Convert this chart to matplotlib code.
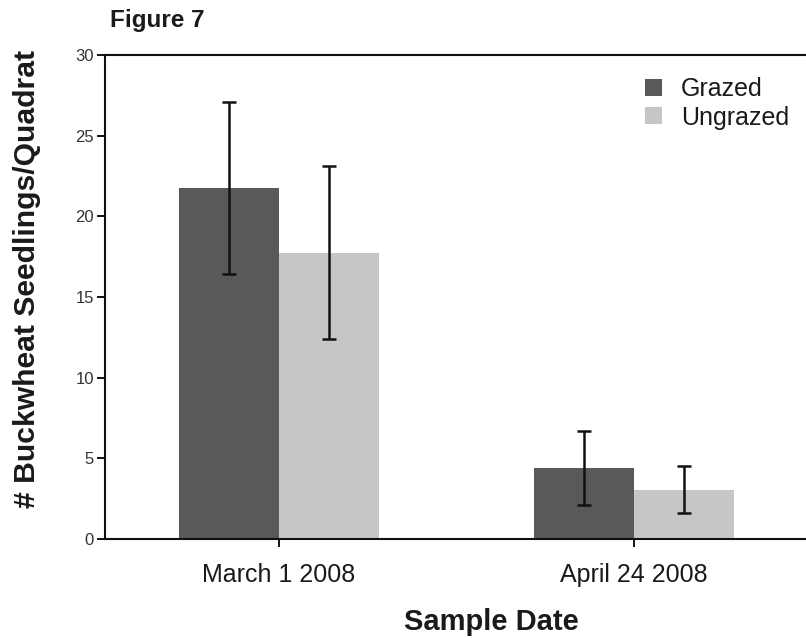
import matplotlib
matplotlib.use("Agg")
import matplotlib.pyplot as plt
import numpy as np

# Seedling counts per quadrat (mean ± error) by sample date and treatment
dates = ["March 1 2008", "April 24 2008"]
series_names = ["Grazed", "Ungrazed"]
grazed_mean = [21.75, 4.4]
grazed_err = [5.35, 2.3]
ungrazed_mean = [17.75, 3.05]
ungrazed_err = [5.35, 1.45]
y_ticks = [0, 5, 10, 15, 20, 25, 30]

plt.rcParams["font.family"] = ["Liberation Sans", "DejaVu Sans"]

fig = plt.figure(figsize=(8.06, 6.38), dpi=100)
ax = fig.add_axes([105 / 806, 1 - 539 / 638, (806 - 105) / 806, (539 - 55) / 638])

x = np.arange(len(dates))
width = 0.282
err_kw = dict(ecolor="#111111", elinewidth=1.8, capsize=5.0, capthick=1.8)

ax.bar(x - width / 2, grazed_mean, width, yerr=grazed_err, color="#595959",
       label=series_names[0], error_kw=err_kw, zorder=2)
ax.bar(x + width / 2, ungrazed_mean, width, yerr=ungrazed_err, color="#c6c6c6",
       label=series_names[1], error_kw=err_kw, zorder=2)

ax.set_xlim(-0.49, 1.4845)
ax.set_ylim(0, 30)
ax.set_xticks(x)
ax.set_xticklabels(dates, fontsize=18, color="#1a1a1a")
ax.set_yticks(y_ticks)
ax.set_yticklabels([str(t) for t in y_ticks], fontsize=12, color="#333333")

ax.tick_params(axis="y", direction="out", length=6, width=1.3, pad=2)
ax.tick_params(axis="x", direction="out", length=6, width=1.3, pad=11)

for side in ("left", "bottom", "top"):
    ax.spines[side].set_linewidth(1.5)
    ax.spines[side].set_color("#111111")
ax.spines["right"].set_visible(False)

fig.text(110 / 806, 1 - 9 / 638, "Figure 7", fontsize=17.5, fontweight="bold",
         ha="left", va="top", color="#1a1a1a")
fig.text(491 / 806, 1 - 630 / 638, "Sample Date", fontsize=21, fontweight="bold",
         ha="center", va="baseline", color="#1a1a1a")
fig.text(27 / 806, 1 - 279 / 638, "# Buckwheat Seedlings/Quadrat", fontsize=21.7,
         fontweight="bold", rotation=90, ha="center", va="center", color="#1a1a1a")

ax.legend(loc="upper left", bbox_to_anchor=(645 / 806, 1 - 77 / 638),
          bbox_transform=fig.transFigure, frameon=False, fontsize=18,
          handlelength=0.68, handleheight=0.68, handletextpad=0.75,
          labelspacing=0.18, borderpad=0, borderaxespad=0,
          labelcolor="#1a1a1a")

fig.savefig("out.png", dpi=100)
